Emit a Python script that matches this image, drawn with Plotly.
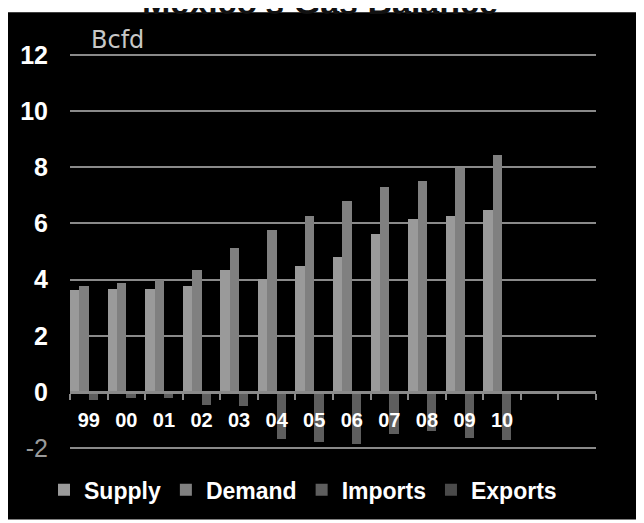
import plotly.graph_objects as go

years = ["99", "00", "01", "02", "03", "04", "05", "06", "07", "08", "09", "10"]
supply = [3.62, 3.68, 3.68, 3.76, 4.34, 4.03, 4.48, 4.82, 5.63, 6.14, 6.28, 6.49]
demand = [3.76, 3.89, 4.00, 4.35, 5.13, 5.77, 6.28, 6.79, 7.29, 7.50, 7.97, 8.44]
imports = [-0.30, -0.20, -0.20, -0.45, -0.50, -1.67, -1.77, -1.85, -1.50, -1.40, -1.65, -1.70]
exports = [0, 0, 0, 0, 0, 0, 0, 0, 0, 0, 0, 0]
n_slots = 14  # 12 years + 2 empty slots on the category axis

y_ticks = [-2, 0, 2, 4, 6, 8, 10, 12]
y_ticktext = ['<span style="color:#9a9a9a">-2</span>'] + ["<b>%d</b>" % v for v in y_ticks[1:]]

xpos = list(range(len(years)))

# page has an 8px body margin: figure occupies page x 8..644, y 8..523
W, H = 636, 515
ML, MR, MT, MB = 62, 48, 44, 69
PW, PH = W - ML - MR, H - MT - MB
YLO, YHI = -2.1, 12.1

fig = go.Figure()
series = [
    ("Supply", supply, "#9a9a9a"),
    ("Demand", demand, "#808080"),
    ("Imports", imports, "#5e5e5e"),
    ("Exports", exports, "#4a4a4a"),
]
for name, vals, col in series:
    fig.add_trace(go.Bar(x=xpos, y=vals, name=name, marker=dict(color=col, line=dict(width=0))))

# black panel (figure top rows stay white so the cut-off title shows)
fig.add_shape(type="rect", xref="paper", yref="paper",
              x0=-ML / PW, x1=(W - ML) / PW,
              y0=-MB / PH, y1=1 + (MT - 4) / PH,
              fillcolor="black", line=dict(width=0), layer="below")

# cut-off title at the very top
fig.add_annotation(text="<b>Mexico's Gas Balance</b>", xref="paper", yref="paper",
                   x=(312 - ML) / PW, y=1 + (MT - 15) / PH, xanchor="center", yanchor="bottom",
                   showarrow=False, font=dict(family="Liberation Sans, Arial", size=34, color="#111111"))

fig.add_annotation(text="Bcfd", xref="paper", yref="paper",
                   x=(81 - ML) / PW, y=1 + (MT - 32) / PH, xanchor="left", yanchor="middle",
                   showarrow=False, font=dict(family="DejaVu Sans", size=24, color="#c8c8c8"))

fig.update_layout(
    width=W, height=H,
    margin=dict(l=ML, r=MR, t=MT, b=MB),
    paper_bgcolor="white",
    plot_bgcolor="black",
    barmode="group", bargap=0, bargroupgap=0,
    showlegend=True,
    legend=dict(orientation="h", x=(36 - ML) / PW, xanchor="left",
                y=-(485 - (H - MB)) / PH, yanchor="middle",
                font=dict(family="Liberation Sans, Arial", size=23, color="white", weight="bold"),
                bgcolor="rgba(0,0,0,0)", itemwidth=30, tracegroupgap=0),
    font=dict(family="Liberation Sans, Arial"),
)

fig.update_yaxes(range=[YLO, YHI], tickvals=y_ticks, ticktext=y_ticktext,
                 showgrid=True, gridcolor="#8a8a8a", gridwidth=2,
                 zeroline=False, showline=False, ticks="",
                 tickfont=dict(family="Liberation Sans, Arial", size=25, color="white"),
                 ticklabelstandoff=21)

fig.update_xaxes(range=[-0.5, n_slots - 0.5], tickvals=xpos, ticktext=["<b>%s</b>" % y for y in years],
                 anchor="free", position=(0 - YLO) / (YHI - YLO), showgrid=False, zeroline=False,
                 showline=True, linecolor="#8a8a8a", linewidth=3,
                 ticks="", ticklabelstandoff=9,
                 tickfont=dict(family="Liberation Sans, Arial", size=20, color="white"),
                 minor=dict(tickvals=[i - 0.5 for i in range(n_slots + 1)], ticks="outside",
                            ticklen=6, tickwidth=2, tickcolor="#8a8a8a", showgrid=False))

fig.write_html("out.html")
